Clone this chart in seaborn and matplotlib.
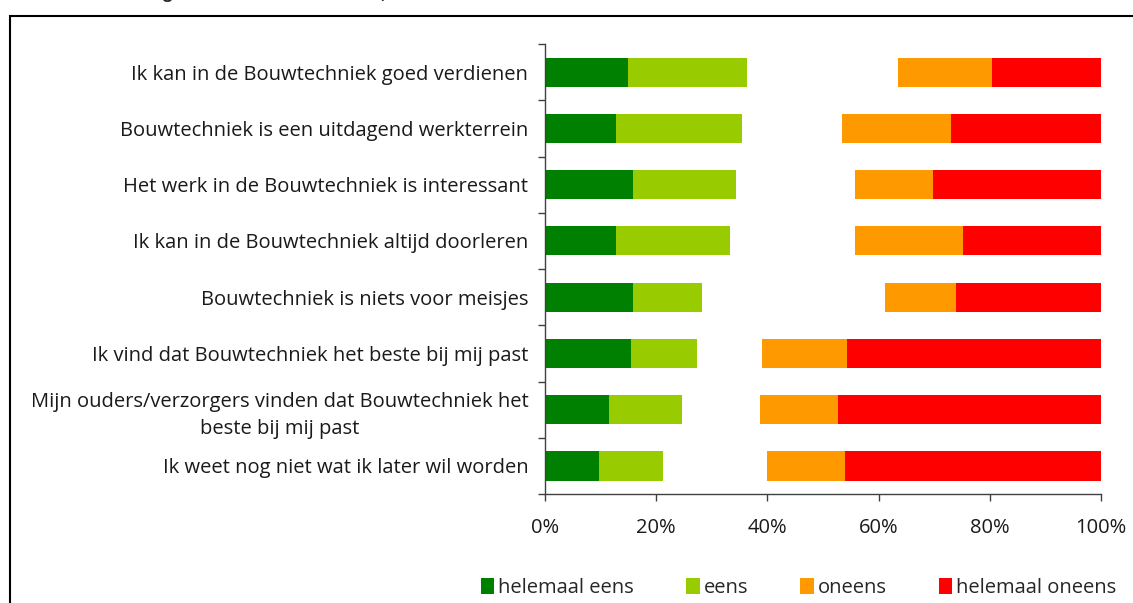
import numpy as np
import pandas as pd
import matplotlib
matplotlib.use("Agg")
import matplotlib.pyplot as plt
import seaborn as sns
from matplotlib.patches import Patch, Rectangle

statements = [
    "Ik kan in de Bouwtechniek goed verdienen",
    "Bouwtechniek is een uitdagend werkterrein",
    "Het werk in de Bouwtechniek is interessant",
    "Ik kan in de Bouwtechniek altijd doorleren",
    "Bouwtechniek is niets voor meisjes",
    "Ik vind dat Bouwtechniek het beste bij mij past",
    "Mijn ouders/verzorgers vinden dat Bouwtechniek het\nbeste bij mij past",
    "Ik weet nog niet wat ik later wil worden",
]
helemaal_eens = [14.9, 12.7, 15.9, 12.7, 15.9, 15.4, 11.6, 9.8]
eens = [21.5, 22.8, 18.5, 20.5, 12.3, 11.9, 13.0, 11.4]
neutraal = [27.0, 18.0, 21.4, 22.6, 33.0, 11.7, 14.0, 18.7]
oneens = [17.0, 19.6, 14.0, 19.4, 12.7, 15.3, 14.1, 14.0]
helemaal_oneens = [19.6, 26.9, 30.2, 24.8, 26.1, 45.7, 47.3, 46.1]

legend_labels = ["helemaal eens", "eens", "oneens", "helemaal oneens"]
x_ticks = [0, 20, 40, 60, 80, 100]
x_ticklabels = ["0%", "20%", "40%", "60%", "80%", "100%"]

col_he = "#008000"
col_e = "#99CC00"
col_o = "#FF9900"
col_ho = "#FF0000"

sns.set_style("white")
plt.rcParams["font.family"] = ["Open Sans", "DejaVu Sans"]

parts = np.array([helemaal_eens, eens, neutraal, oneens, helemaal_oneens])
cum = np.cumsum(parts, axis=0)

fig = plt.figure(figsize=(11.33, 6.03), dpi=100)
ax = fig.add_axes([545 / 1133, 1 - 494 / 603, 556 / 1133, 450 / 603])

layer_colors = [col_he, col_e, "white", col_o, col_ho]
for i in range(4, -1, -1):
    df = pd.DataFrame({"stelling": statements, "waarde": cum[i]})
    sns.barplot(data=df, x="waarde", y="stelling", orient="h", order=statements,
                color=layer_colors[i], saturation=1, width=0.52,
                linewidth=0, ax=ax)

fs = 14.5
ax.set_xlim(0, 100)
ax.set_ylim(7.5, -0.5)
ax.set_xlabel("")
ax.set_ylabel("")
ax.set_xticks(x_ticks)
ax.set_xticklabels(x_ticklabels, fontsize=fs, color="#1a1a1a")
ax.set_yticks(range(len(statements)))
ax.set_yticklabels(statements, fontsize=fs, color="#1a1a1a")
for lab in ax.get_yticklabels():
    lab.set_multialignment("center")
    lab.set_linespacing(1.45)
ax.set_yticks(np.arange(-0.5, len(statements), 1), minor=True)
ax.tick_params(axis="y", which="major", length=0, pad=12)
ax.tick_params(axis="y", which="minor", length=5, width=1, color="#404040", direction="out", left=True)
ax.tick_params(axis="x", which="major", length=5, width=1, color="#404040", direction="out", pad=12, bottom=True)
for s in ["top", "right"]:
    ax.spines[s].set_visible(False)
for s in ["left", "bottom"]:
    ax.spines[s].set_color("#404040")
    ax.spines[s].set_linewidth(1)
ax.grid(False)

handles = [Patch(facecolor=c, edgecolor="none") for c in [col_he, col_e, col_o, col_ho]]
fig.legend(handles, legend_labels, loc="center", bbox_to_anchor=(0.705, 1 - 588 / 603),
           ncol=4, frameon=False, fontsize=fs, handlelength=0.65, handleheight=0.85,
           handletextpad=0.2, columnspacing=2.6, borderaxespad=0)

fig.add_artist(Rectangle((10 / 1133, -0.1), 2.0, (603 - 16) / 603 + 0.1,
                         transform=fig.transFigure, fill=False, lw=1.5, ec="black"))

fig.text(8 / 1133, 1 + 2 / 603, "Grafiek 7: Stellingen over Bouwtechniek, naar oordeel",
         fontsize=14, fontweight="bold", va="baseline", ha="left",
         family=["Liberation Sans", "DejaVu Sans"])

fig.savefig("out.png", dpi=100)
